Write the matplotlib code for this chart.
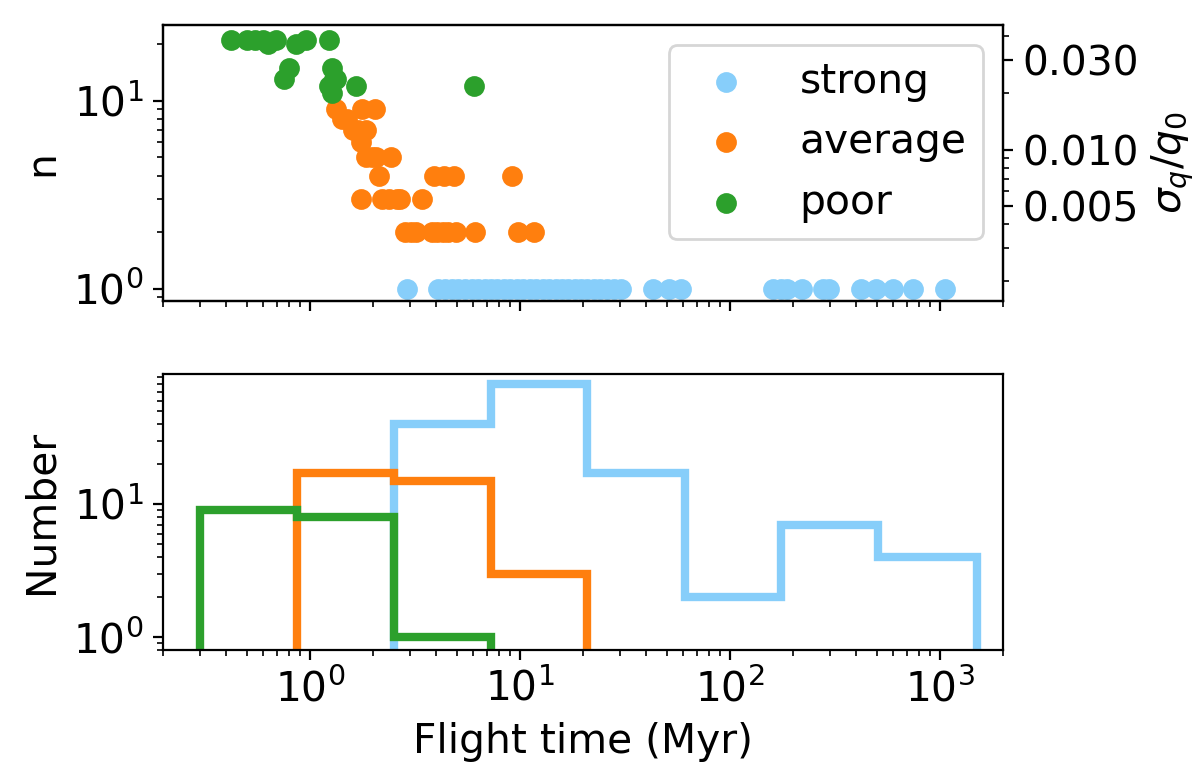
import numpy as np
import matplotlib
matplotlib.use('Agg')
import matplotlib.pyplot as plt
from matplotlib.ticker import LogLocator, NullFormatter, FormatStrFormatter

# flight time (Myr) and n for each group
strong_t = [2.92, 4.1, 4.4, 4.75, 5.1, 5.5, 5.9, 6.3, 6.8, 7.3, 7.8, 8.4, 9.0, 9.7,
            10.4, 11.2, 12.0, 12.9, 13.8, 14.8, 15.9, 17.0, 18.3, 19.6, 21.0, 22.6,
            24.2, 26.0, 28.0, 30.5, 42.9, 51.5, 58.6, 160, 175, 188, 222, 277, 298,
            422, 498, 597, 743, 1063]
strong_n = [1] * len(strong_t)

average_t = [1.33, 1.78, 2.05, 1.43, 1.50, 1.60, 1.85, 1.70, 1.75, 1.85, 1.97, 2.07,
             2.45, 2.14, 1.75, 2.22, 2.38,
             3.90, 4.35, 4.85, 2.60, 2.70, 3.42, 2.85, 3.05, 3.20, 3.84, 4.05, 4.30,
             4.55, 4.95, 6.10,
             9.2, 9.8, 11.7]
average_n = [9, 9, 9, 8, 8, 7, 7, 7, 6, 5, 5, 5,
             5, 4, 3, 3, 3,
             4, 4, 4, 3, 3, 3, 2, 2, 2, 2, 2, 2,
             2, 2, 2,
             4, 2, 2]

poor_t = [0.42, 0.50, 0.55, 0.60, 0.63, 0.69, 0.75, 0.80, 0.86,
          0.96, 1.24, 1.28, 1.33, 1.24, 1.28, 1.30, 1.66, 6.07]
poor_n = [21, 21, 21, 21, 20, 21, 13, 15, 20,
          21, 21, 15, 13, 12, 11, 13, 12, 12]

# histogram of flight times
bin_edges = [0.3, 0.87, 2.51, 7.27, 21.0, 60.9, 176, 510, 1500]
strong_counts = [0, 0, 40, 80, 17, 2, 7, 4]
average_counts = [0, 17, 15, 3, 0, 0, 0, 0]
poor_counts = [9, 8, 1, 0, 0, 0, 0, 0]

sigma_per_n = 0.00182  # sigma_q/q0 per unit n (right axis)

colors = {'strong': '#87CEFA', 'average': '#ff7f0e', 'poor': '#2ca02c'}

plt.rcParams['font.size'] = 14.7

fig, (ax, axh) = plt.subplots(2, 1, sharex=True, figsize=(6.01, 3.835), dpi=200)
fig.subplots_adjust(left=0.1356, right=0.8344, top=0.9674, bottom=0.1525, hspace=0.265)

ax.scatter(strong_t, strong_n, s=42, color=colors['strong'], label='strong')
ax.scatter(average_t, average_n, s=42, color=colors['average'], label='average')
ax.scatter(poor_t, poor_n, s=42, color=colors['poor'], label='poor')
ax.set_xscale('log')
ax.set_yscale('log')
ax.set_ylim(0.86, 25.3)
ax.set_ylabel('n')
ax.legend(loc='upper right')

ax2 = ax.twinx()
ax2.set_yscale('log')
lo, hi = ax.get_ylim()
ax2.set_ylim(lo * sigma_per_n, hi * sigma_per_n)
ax2.set_yticks([0.005, 0.01, 0.03])
ax2.yaxis.set_major_formatter(FormatStrFormatter('%.3f'))
ax2.yaxis.set_minor_locator(LogLocator(subs='all'))
ax2.yaxis.set_minor_formatter(NullFormatter())
ax2.set_ylabel(r'$\sigma_q/q_0$')

centers = np.sqrt(np.array(bin_edges[:-1]) * np.array(bin_edges[1:]))
for name, counts in [('strong', strong_counts), ('average', average_counts), ('poor', poor_counts)]:
    axh.hist(centers, bins=bin_edges, weights=counts, histtype='step',
             color=colors[name], lw=3, log=True)
axh.set_xscale('log')
axh.set_xlim(0.2, 2000)
axh.set_ylim(0.8, 95)
axh.set_ylabel('Number')
axh.set_xlabel('Flight time (Myr)')

plt.savefig('out.png')
